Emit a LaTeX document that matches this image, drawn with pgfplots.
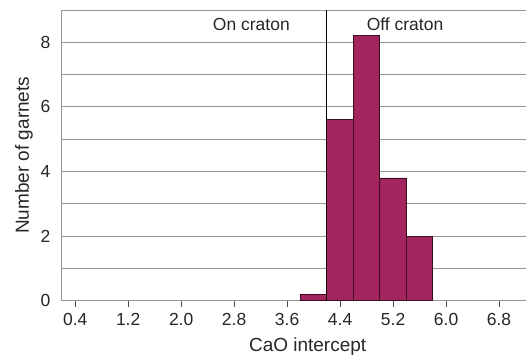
\documentclass[border=0pt]{standalone}
\usepackage{pgfplots}
\pgfplotsset{compat=1.18}
\usepackage{fontspec}
\setmainfont{Liberation Sans}
\usetikzlibrary{calc}
\definecolor{barfill}{RGB}{163,36,94}
\definecolor{baredge}{RGB}{60,12,32}
\definecolor{gridgray}{RGB}{150,150,150}
\begin{document}
\begin{tikzpicture}
\begin{axis}[
  name=ax,
  scale only axis,
  width=464pt, height=291pt,
  xmin=0.2, xmax=7.2, ymin=0, ymax=9,
  axis x line*=bottom, axis y line*=left,
  axis line style={gridgray, line width=0.9pt, -},
  xtick={0.4,1.2,2.0,2.8,3.6,4.4,5.2,6.0,6.8},
  xticklabels={0.4,1.2,2.0,2.8,3.6,4.4,5.2,6.0,6.8},
  ytick={0,2,4,6,8},
  minor ytick={1,3,5,7,9},
  ymajorgrids, yminorgrids,
  grid style={gridgray, line width=0.9pt},
  minor grid style={gridgray, line width=0.9pt},
  x tick style={black!70, line width=0.9pt},
  y tick style={draw=none},
  tick align=outside,
  major tick length=6pt,
  xtick pos=bottom,
  ytick pos=left,
  /pgf/number format/assume math mode=true,
  tick label style={font=\fontsize{17.5}{20}\selectfont, text=black!85},
  xticklabel style={yshift=-3pt},
  yticklabel style={xshift=-2pt},
  xlabel={CaO intercept},
  ylabel={Number of garnets},
  label style={font=\fontsize{19}{22}\selectfont, text=black!85},
  xlabel style={at={(ticklabel cs:0.53)}, anchor=north, yshift=-5pt},
  ylabel style={yshift=1pt},
  clip=false,
]
\addplot[ybar interval, fill=barfill, draw=baredge, line width=0.8pt]
  coordinates {(3.8,0.2) (4.2,5.6) (4.6,8.2) (5.0,3.8) (5.4,2.0) (5.8,2.0)};
\addplot[black, line width=0.9pt] coordinates {(4.2,0) (4.2,9)};
\node[font=\fontsize{17.5}{20}\selectfont, text=black!85] at (axis cs:3.06,8.55) {On craton};
\node[font=\fontsize{17.5}{20}\selectfont, text=black!85] at (axis cs:5.38,8.55) {Off craton};
\end{axis}
\path ($(ax.south west)+(-62pt,-56pt)$) rectangle ($(ax.north east)+(0pt,10pt)$);
\end{tikzpicture}
\end{document}
